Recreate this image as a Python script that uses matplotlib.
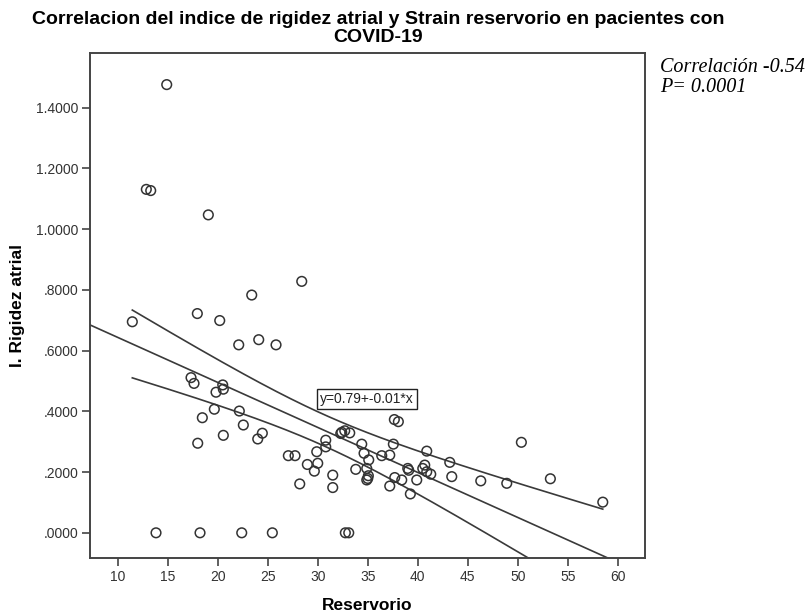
import numpy as np
import matplotlib
matplotlib.use("Agg")
import matplotlib.pyplot as plt

# reservorio strain (x) vs indice de rigidez atrial (y)
reservorio = [14.9, 12.86, 13.3, 19.06, 28.4, 23.4, 17.96, 20.2, 11.46, 22.1,
              24.1, 25.83, 17.33, 17.63, 20.5, 20.56, 19.83, 19.66, 22.16, 18.46,
              22.56, 24.46, 24.0, 20.56, 18.0, 27.06, 27.73, 29.9, 30.8, 30.8,
              28.96, 30.0, 29.66, 31.5, 31.5, 28.2, 32.3, 32.4, 32.7, 33.2,
              34.4, 34.63, 35.1, 33.8, 34.9, 35.06, 34.9, 35.0, 37.66, 38.06,
              37.56, 40.9, 36.4, 37.2, 43.2, 39.0, 39.1, 40.7, 40.5, 40.9,
              41.3, 43.4, 37.7, 38.4, 37.2, 39.9, 39.26, 50.36, 46.3, 48.9,
              53.26, 58.5, 13.83, 18.23, 22.4, 25.46, 32.76, 33.1]
rigidez = [1.476, 1.131, 1.127, 1.047, 0.828, 0.783, 0.722, 0.699, 0.695, 0.619,
           0.636, 0.619, 0.511, 0.492, 0.487, 0.473, 0.463, 0.407, 0.401, 0.379,
           0.355, 0.328, 0.309, 0.321, 0.295, 0.254, 0.254, 0.267, 0.305, 0.283,
           0.225, 0.229, 0.203, 0.190, 0.149, 0.161, 0.327, 0.331, 0.336, 0.329,
           0.292, 0.262, 0.240, 0.209, 0.212, 0.188, 0.174, 0.179, 0.373, 0.366,
           0.292, 0.269, 0.254, 0.256, 0.232, 0.212, 0.206, 0.223, 0.212, 0.201,
           0.193, 0.185, 0.182, 0.174, 0.154, 0.174, 0.128, 0.298, 0.171, 0.163,
           0.178, 0.101, 0.0, 0.0, 0.0, 0.0, 0.0, 0.0]

x_ticks = [10, 15, 20, 25, 30, 35, 40, 45, 50, 55, 60]
y_ticks = [0.0, 0.2, 0.4, 0.6, 0.8, 1.0, 1.2, 1.4]

x = np.array(reservorio)
y = np.array(rigidez)

# linear fit + 95% CI of the mean
n = len(x)
slope, intercept = np.polyfit(x, y, 1)
resid = y - (intercept + slope * x)
s = np.sqrt(np.sum(resid ** 2) / (n - 2))
sxx = np.sum((x - x.mean()) ** 2)
t_crit = 1.992  # t(0.975, ~76 df)

xs = np.linspace(x.min(), x.max(), 200)
yfit = intercept + slope * xs
half = t_crit * s * np.sqrt(1.0 / n + (xs - x.mean()) ** 2 / sxx)

xlim = (7.23, 62.7)
ylim = (-0.083, 1.58)
xl = np.linspace(xlim[0], xlim[1], 200)

plt.rcParams['font.family'] = ['Liberation Sans', 'DejaVu Sans']

fig = plt.figure(figsize=(8.08, 6.13), dpi=100)
ax = fig.add_axes([0.1114, 0.0897, 0.798 - 0.1114, 0.9135 - 0.0897])

lc = '#3a3a3a'
ax.plot(xl, intercept + slope * xl, color=lc, lw=1.2)
ax.plot(xs, yfit + half, color=lc, lw=1.2)
ax.plot(xs, yfit - half, color=lc, lw=1.2)
ax.scatter(x, y, s=48, facecolors='none', edgecolors='#333333', linewidths=1.1, zorder=3)

ax.set_xlim(*xlim)
ax.set_ylim(*ylim)
ax.set_xticks(x_ticks)
ax.set_yticks(y_ticks)
ax.set_yticklabels(['.0000' if v == 0 else ('%.4f' % v).lstrip('0') if v < 1 else '%.4f' % v
                    for v in y_ticks])
ax.tick_params(direction='out', length=6, width=1.2, color='#444444',
               labelsize=10, labelcolor='#333333', pad=2.5)
for sp in ax.spines.values():
    sp.set_color('#444444')
    sp.set_linewidth(1.4)

ax.set_xlabel('Reservorio', fontsize=12.5, fontweight='bold', labelpad=10)
ax.set_ylabel('I. Rigidez atrial', fontsize=12.5, fontweight='bold', labelpad=8)

ax.text(34.9, 0.44, 'y=0.79+-0.01*x', fontsize=10, ha='center', va='center',
        color='#222222',
        bbox=dict(boxstyle='square,pad=0.22', fc='white', ec='#222222', lw=1))

fig.text(0.468, 0.982, 'Correlacion del indice de rigidez atrial y Strain reservorio en pacientes con\nCOVID-19',
         ha='center', va='top', fontsize=14, fontweight='bold', linespacing=1.08)

fig.text(660 / 808, 1 - 67 / 613, 'Correlación -0.54', family=['Liberation Serif'],
         style='italic', fontsize=14.5, va='center', ha='left')
fig.text(660 / 808, 1 - 88 / 613, 'P= 0.0001', family=['Liberation Serif'],
         style='italic', fontsize=14.5, va='center', ha='left')

fig.savefig('out.png', dpi=100)
